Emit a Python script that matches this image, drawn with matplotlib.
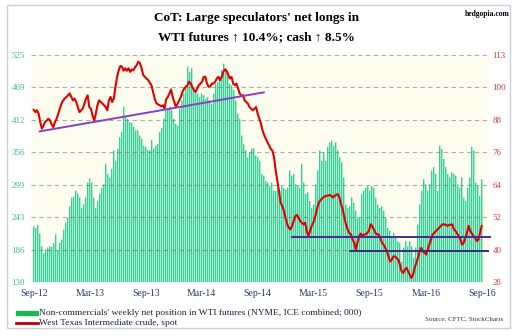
import numpy as np
import matplotlib.pyplot as plt
from matplotlib.lines import Line2D
from matplotlib.patches import Rectangle

plt.rcParams['font.family'] = ['Liberation Serif', 'DejaVu Serif']

# weekly net position of non-commercials, thousands of contracts
net_longs = [
    227, 224, 229, 214, 192, 180, 187, 190, 192, 191, 198, 213, 185, 198, 204,
    221, 233, 242, 262, 277, 278, 289, 284, 277, 259, 265, 277, 303, 310, 303,
    277, 259, 271, 283, 294, 300, 335, 318, 312, 327, 359, 341, 362, 382, 391,
    435, 417, 414, 408, 407, 400, 394, 394, 385, 379, 367, 365, 360, 359, 377,
    362, 367, 370, 391, 398, 414, 429, 432, 435, 429, 414, 405, 402, 432, 446,
    458, 472, 505, 496, 502, 467, 461, 458, 452, 458, 455, 449, 452, 446, 440,
    458, 475, 478, 487, 499, 510, 502, 490, 475, 472, 464, 446, 423, 414, 385,
    370, 359, 347, 356, 362, 363, 350, 348, 341, 318, 315, 306, 303, 297, 303,
    289, 289, 294, 289, 297, 294, 291, 294, 324, 315, 318, 300, 297, 294, 335,
    303, 283, 286, 271, 259, 265, 300, 324, 359, 341, 356, 341, 365, 373, 376,
    367, 373, 359, 347, 338, 312, 265, 259, 262, 277, 268, 254, 242, 242, 283,
    289, 294, 297, 289, 297, 294, 277, 265, 259, 262, 254, 242, 224, 219, 207,
    216, 210, 201, 198, 166, 190, 201, 192, 201, 192, 172, 190, 230, 265, 289,
    309, 300, 289, 300, 324, 330, 318, 289, 367, 362, 344, 330, 318, 312, 321,
    318, 315, 300, 294, 312, 277, 271, 294, 312, 365, 359, 303, 297, 280, 309,
]

# WTI crude spot, $/bbl
wti_spot = [
    92.5, 91.6, 92.3, 91.0, 87.9, 85.4, 86.6, 87.9, 88.5, 89.1, 88.5, 87.0,
    86.0, 87.9, 89.1, 91.0, 92.9, 94.8, 96.0, 96.7, 97.3, 97.9, 98.6, 97.3,
    96.0, 96.7, 95.4, 93.5, 91.6, 92.3, 92.9, 94.8, 96.7, 97.9, 93.5, 92.9,
    90.4, 88.5, 91.0, 94.2, 96.0, 95.4, 94.8, 94.2, 93.5, 92.3, 96.0, 97.3,
    95.4, 96.7, 101.1, 104.8, 107.3, 108.9, 108.6,
    107.1, 108.0, 107.1, 108.0, 106.7, 107.6, 107.3, 108.4, 109.2, 110.5,
    109.9, 108.0, 105.5, 104.8, 104.2, 103.6, 102.6, 101.7, 99.2, 96.7, 95.0,
    94.5, 94.2, 93.8, 94.2, 92.9, 96.3, 97.3, 98.6, 100.1, 97.3, 95.4, 93.5,
    94.8, 96.0, 97.3, 99.2, 100.4, 101.1, 101.7, 103.0, 102.4, 101.1, 99.8,
    99.2, 100.4, 101.7, 102.3, 103.0, 104.8, 104.8, 102.3, 101.1, 101.3,
    102.3, 102.3,
    103.0, 104.2, 104.8, 103.6, 104.8, 106.7, 107.6, 107.1, 105.5, 104.2,
    104.8, 102.3, 101.7, 102.3, 100.4, 98.6, 97.6, 98.0, 96.0, 95.4, 94.8,
    93.5, 92.9, 92.3, 92.9, 93.5, 91.0, 89.1, 87.3, 84.7, 82.9, 81.6, 80.3,
    79.1, 77.8, 77.2, 74.7, 69.7, 65.9, 62.1, 57.7, 56.5, 54.6, 52.1, 49.6,
    48.3, 47.7, 49.0, 50.8, 52.7, 53.1, 52.1, 50.8, 50.2, 49.6, 50.2,
    47.1, 45.2, 47.1, 49.0, 50.2, 52.1, 54.6, 57.1, 58.4, 59.0, 59.6, 60.0,
    60.3, 60.3, 60.6, 60.3, 59.6, 60.3, 60.6, 60.9, 59.6, 57.1, 55.2, 52.1,
    49.6, 47.7, 46.4, 45.8, 43.9, 42.7, 40.2, 42.7, 45.2, 46.1, 45.2, 45.8,
    45.8, 46.4, 47.1, 49.6, 49.0, 47.7, 46.4, 45.8, 45.8, 44.5, 42.7, 42.0,
    40.8, 39.5, 37.6, 35.7, 36.3, 37.6, 37.6, 36.9,
    36.3, 34.5, 32.0, 31.4, 32.6, 33.3, 32.0, 30.7, 29.5, 30.7, 33.3, 35.1,
    37.0, 39.5, 40.8, 39.5, 38.9, 38.3, 40.2, 42.0, 43.9, 45.8, 46.4, 47.1,
    47.7, 48.3, 49.0, 49.6, 49.6, 49.4, 49.0, 49.4, 49.4, 49.6, 47.7, 47.1,
    46.1, 45.2, 43.9, 42.0, 42.7, 44.5, 46.4, 49.0, 47.1, 46.1, 45.2, 44.5,
    43.3, 43.9, 46.4, 49.0,
]

x_labels = ['Sep-12', 'Mar-13', 'Sep-13', 'Mar-14', 'Sep-14',
            'Mar-15', 'Sep-15', 'Mar-16', 'Sep-16']
left_labels = ['130', '186', '243', '299', '356', '412', '469', '525']
right_labels = ['28', '40', '52', '64', '76', '88', '100', '113']

# trend lines on the price axis (week number, price)
rising_x, rising_y = [2.8, 106.8], [84.4, 99.0]
upper_x, upper_y = [120, 212], [44.8, 44.8]
lower_x, lower_y = [147, 211], [39.5, 39.5]

n_weeks = 208
W, H = 520, 336
ax_left, ax_right = 31, 489

fig = plt.figure(figsize=(5.2, 3.36), dpi=100)
fig.patch.set_facecolor('white')
ax = fig.add_axes([ax_left / W, 1 - 282 / H, (ax_right - ax_left) / W, 227 / H])
ax.set_facecolor('#fdfdef')

bar_x = np.linspace(0, n_weeks, len(net_longs))
step = bar_x[1] - bar_x[0]
# one bar every two pixels, left edges on whole pixels, so the stripes stay even
x_span = (ax_right - ax_left) * step / 2
x_start = -1.35 * step
ax.set_xlim(x_start, x_start + x_span)

ax.bar(bar_x, np.array(net_longs) - 130, bottom=130, width=step * 0.7,
       color='#36cf9a', linewidth=0, snap=False, zorder=2)

ax.set_ylim(130, 525)
ax.set_yticks(np.linspace(130, 525, 8))
ax.set_yticklabels(left_labels)
ax.set_xticks(np.arange(0, n_weeks + 1, 26))
ax.set_xticklabels(x_labels)
ax.grid(axis='y', color='#707070', alpha=0.55, linestyle=(0, (4, 3)),
        linewidth=0.8, zorder=3)
ax.set_axisbelow(False)
ax.tick_params(axis='y', length=0, pad=4.5, labelsize=6.5, labelcolor='#35c08f')
ax.tick_params(axis='x', length=0, pad=5, labelsize=7, labelcolor='#2a3a6e')
for s in ax.spines.values():
    s.set_visible(False)

ax2 = ax.twinx()
ax2.set_ylim(28, 113)
ax2.set_yticks(np.linspace(28, 113, 8))
ax2.set_yticklabels(right_labels)
ax2.tick_params(axis='y', length=0, pad=2.5, labelsize=6.5, labelcolor='#e0393e')
for s in ax2.spines.values():
    s.set_visible(False)

price_x = np.linspace(0, n_weeks, len(wti_spot))
ax2.plot(price_x, wti_spot, color='#e00000', linewidth=1.5, zorder=4)
ax2.plot(rising_x, rising_y, color='#8a3fc0', linewidth=1.4, zorder=5)
ax2.plot(upper_x, upper_y, color='#4a2a90', linewidth=1.4, zorder=5,
         clip_on=False)
ax2.plot(lower_x, lower_y, color='#3a2a80', linewidth=1.4, zorder=5,
         clip_on=False)

# titles
fig.text(256 / W, 1 - 18 / H, "CoT: Large speculators' net longs in",
         ha='center', va='center', fontsize=9.5, fontweight='bold')
fig.text(256 / W, 1 - 37 / H, 'WTI futures \u2191 10.4%; cash \u2191 8.5%',
         ha='center', va='center', fontsize=9.5, fontweight='bold')
fig.text(510 / W, 1 - 14 / H, 'hedgopia.com', ha='right', va='center',
         fontsize=5.5, fontweight='bold')

# legend
fig.patches.append(Rectangle((16 / W, 1 - 315 / H), 22 / W, 4 / H,
                             transform=fig.transFigure, color='#1fb35a'))
fig.lines.append(Line2D([16 / W, 38 / W], [1 - 323 / H, 1 - 323 / H],
                        transform=fig.transFigure, color='#c00000', lw=2))
fig.text(39 / W, 1 - 313 / H,
         "Non-commercials' weekly net position in WTI futures (NYME, ICE combined; 000)",
         ha='left', va='center', fontsize=6.8, color='#1e1e3c')
fig.text(39 / W, 1 - 323 / H, 'West Texas Intermediate crude, spot',
         ha='left', va='center', fontsize=6.8, color='#1e1e3c')
fig.text(503 / W, 1 - 319 / H, 'Source: CFTC, StockCharts', ha='right',
         va='center', fontsize=5, color='#333333')

# outer frame
fig.patches.append(Rectangle((7 / W, 1 - 328 / H), 503 / W, 323 / H,
                             transform=fig.transFigure, fill=False,
                             edgecolor='#c5cfe0', linewidth=1))

fig.savefig('out.png', dpi=100)
